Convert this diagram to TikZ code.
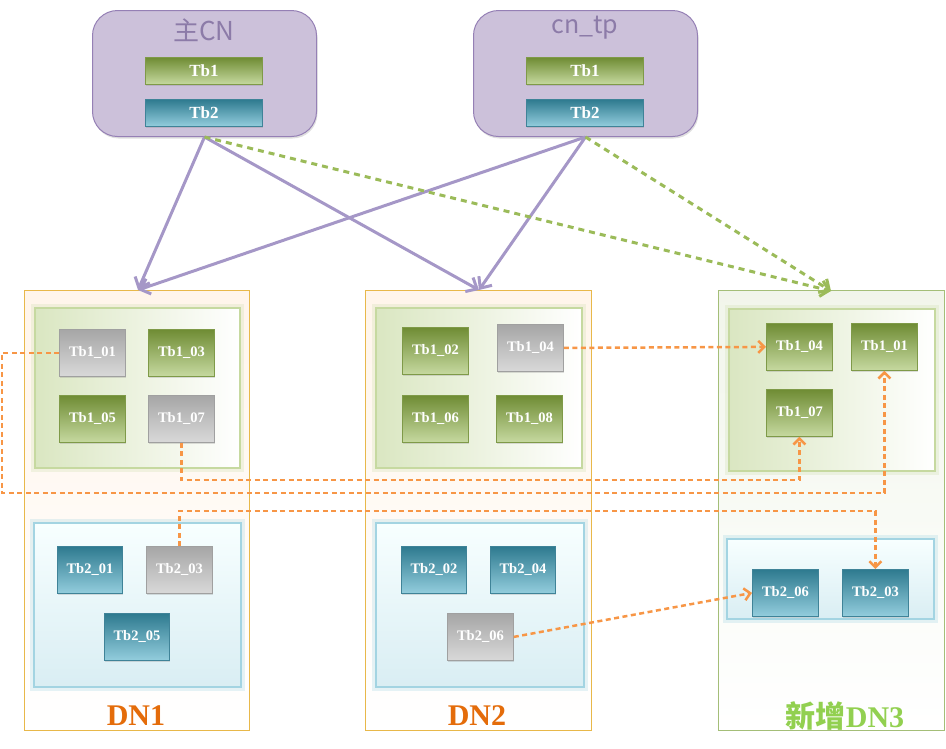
\documentclass[tikz,border=0pt]{standalone}
\usepackage{fontspec}
\setmainfont{Liberation Serif}
\newfontfamily\cjk{Noto Sans CJK SC}
\usetikzlibrary{arrows.meta,shadows}
\definecolor{cnfill}{HTML}{CCC1DA}
\definecolor{cnborder}{HTML}{9580B5}
\definecolor{cntitle}{HTML}{8C7BA8}
\definecolor{purp}{HTML}{A597C7}
\definecolor{gdash}{HTML}{9BBB59}
\definecolor{oran}{HTML}{F79646}
\definecolor{dnone}{HTML}{E8B84A}
\definecolor{dnthree}{HTML}{A4BE78}
\definecolor{dnlab}{HTML}{E46C0A}
\definecolor{dnlabg}{HTML}{92D050}
\definecolor{gtop}{HTML}{6F8C34}
\definecolor{gbot}{HTML}{C6D9A0}
\definecolor{gbrd}{HTML}{7F9A48}
\definecolor{btop}{HTML}{2E7A8F}
\definecolor{bbot}{HTML}{93CDDD}
\definecolor{bbrd}{HTML}{3F8398}
\definecolor{ytop}{HTML}{A6A6A6}
\definecolor{ybot}{HTML}{D9D9D9}
\definecolor{ybrd}{HTML}{A0A0A0}
\newcommand\bx[7]{\node[#6, anchor=north west, minimum width=#4pt, minimum height=#5pt, inner sep=0pt] (#1) at (#2,#3) {#7};}
\tikzset{
  cnbox/.style={draw=cnborder, line width=1pt, fill=cnfill, rounded corners=25pt,
     drop shadow={opacity=0.25, shadow xshift=1pt, shadow yshift=-2pt}},
  tblab/.style={text=white, font=\bfseries\fontsize{14.5}{16}\selectfont},
  barlab/.style={text=white, font=\bfseries\fontsize{17}{19}\selectfont},
  shd/.style={drop shadow={opacity=0.25, shadow xshift=1pt, shadow yshift=-2pt}},
  tg/.style={top color=gtop, bottom color=gbot, draw=gbrd, line width=0.8pt, shd, tblab},
  tb/.style={top color=btop, bottom color=bbot, draw=bbrd, line width=0.8pt, shd, tblab},
  ty/.style={top color=ytop, bottom color=ybot, draw=ybrd, line width=0.8pt, shd, tblab},
  bg/.style={top color=gtop, bottom color=gbot, draw=gbrd, line width=0.8pt, shd, barlab},
  bb/.style={top color=btop, bottom color=bbot, draw=bbrd, line width=0.8pt, shd, barlab},
  dnbox/.style={draw=dnone, line width=1pt, top color=orange!8, bottom color=white},
  dnboxg/.style={draw=dnthree, line width=1pt, top color=dnthree!15, bottom color=white},
  panelg/.style={shading angle=135, left color=gbot!65, right color=white, draw=gbot, line width=1.5pt,
     preaction={draw=gbot!80, line width=8pt, opacity=0.3}},
  panelb/.style={top color=cyan!3, bottom color=bbot!35, draw=bbot!85, line width=1.5pt,
     preaction={draw=bbot!80, line width=8pt, opacity=0.3}},
  parrow/.style={draw=purp, line width=3pt, -{Straight Barb[length=9pt,width=16pt,line width=3pt]}},
  garrow/.style={draw=gdash, line width=3pt, dash pattern=on 6pt off 5pt, -{Straight Barb[length=8pt,width=16pt,line width=3pt]}},
  oarrow/.style={draw=oran, line width=2.5pt, dash pattern=on 5pt off 3.5pt, -{Straight Barb[length=6pt,width=12pt,line width=2.5pt]}},
}
\begin{document}
\begin{tikzpicture}[x=1pt,y=-1pt]
\useasboundingbox (0,0) rectangle (946,748);
% CN boxes
\bx{cn1}{92}{10}{224}{126}{cnbox}{}
\bx{cn2}{473}{10}{224}{126}{cnbox}{}
\node[text=cntitle, font=\cjk\fontsize{26}{28}\selectfont] (cn1t) at (204,30) {主CN};
\node[text=cntitle, font=\cjk\fontsize{25}{27}\selectfont] (cn2t) at (585,28) {cn\_tp};
\bx{cn1a}{145}{57}{117}{27}{bg}{Tb1}
\bx{cn1b}{145}{99}{117}{27}{bb}{Tb2}
\bx{cn2a}{526}{57}{117}{27}{bg}{Tb1}
\bx{cn2b}{526}{99}{117}{27}{bb}{Tb2}
% DN boxes
\bx{d1}{24}{290}{225}{440}{dnbox}{}
\bx{d2}{365}{290}{226}{440}{dnbox}{}
\bx{d3}{718}{290}{226}{440}{dnboxg}{}
% panels
\bx{d1g}{34}{307}{205}{160}{panelg}{}
\bx{d1b}{33}{522}{207}{164}{panelb}{}
\bx{d2g}{375}{307}{206}{160}{panelg}{}
\bx{d2b}{375}{522}{208}{164}{panelb}{}
\bx{d3g}{728}{308}{206}{162}{panelg}{}
\bx{d3b}{726}{538}{207}{80}{panelb}{}
% DN1 tables
\bx{d1t01}{59}{329}{66}{47}{ty}{Tb1\_01}
\bx{d1t03}{148}{329}{66}{47}{tg}{Tb1\_03}
\bx{d1t05}{59}{395}{66}{47}{tg}{Tb1\_05}
\bx{d1t07}{148}{395}{66}{47}{ty}{Tb1\_07}
\bx{d1t201}{57}{546}{65}{47}{tb}{Tb2\_01}
\bx{d1t203}{146}{546}{66}{47}{ty}{Tb2\_03}
\bx{d1t205}{104}{613}{65}{47}{tb}{Tb2\_05}
% DN2 tables
\bx{d2t02}{402}{327}{66}{47}{tg}{Tb1\_02}
\bx{d2t04}{497}{324}{66}{47}{ty}{Tb1\_04}
\bx{d2t06}{402}{395}{66}{47}{tg}{Tb1\_06}
\bx{d2t08}{496}{395}{66}{47}{tg}{Tb1\_08}
\bx{d2t202}{401}{546}{65}{47}{tb}{Tb2\_02}
\bx{d2t204}{490}{546}{65}{47}{tb}{Tb2\_04}
\bx{d2t206}{447}{613}{66}{47}{ty}{Tb2\_06}
% DN3 tables
\bx{d3t04}{766}{323}{66}{47}{tg}{Tb1\_04}
\bx{d3t01}{851}{323}{66}{47}{tg}{Tb1\_01}
\bx{d3t07}{766}{389}{66}{47}{tg}{Tb1\_07}
\bx{d3t206}{752}{569}{66}{47}{tb}{Tb2\_06}
\bx{d3t203}{842}{569}{66}{47}{tb}{Tb2\_03}
% labels
\node[text=dnlab, font=\bfseries\fontsize{30}{32}\selectfont] (l1) at (136,716) {DN1};
\node[text=dnlab, font=\bfseries\fontsize{30}{32}\selectfont] (l2) at (477,716) {DN2};
\node[text=dnlabg, font=\bfseries\fontsize{30}{32}\selectfont] (l3) at (845,716) {{\cjk\bfseries 新增}DN3};
% arrows from CN
\coordinate (d1in) at (138,290);
\coordinate (d2in) at (479,290);
\coordinate (d3in) at (831,291);
\draw[parrow] (cn1.south) -- (d1in);
\draw[parrow] (cn1.south) -- (d2in);
\draw[parrow] (cn2.south) -- (d1in);
\draw[parrow] (cn2.south) -- (d2in);
\draw[garrow] (cn1.south) -- (d3in);
\draw[garrow] (cn2.south) -- (d3in);
% migration arrows
\coordinate (r1) at (2,493);
\coordinate (r2) at (0,480);
\coordinate (r3) at (0,511);
\draw[oarrow] (d1t01.west) -| (r1) -| (d3t01.south);
\draw[oarrow] (d1t07.south) -- (d1t07.south |- r2) -| (d3t07.south);
\draw[oarrow] (d1t203.north) -- (d1t203.north |- r3) -| (d3t203.north);
\draw[oarrow] (d2t04.east) -- (d3t04.west);
\draw[oarrow] (d2t206.east) -- (d3t206.west);
\end{tikzpicture}
\end{document}
